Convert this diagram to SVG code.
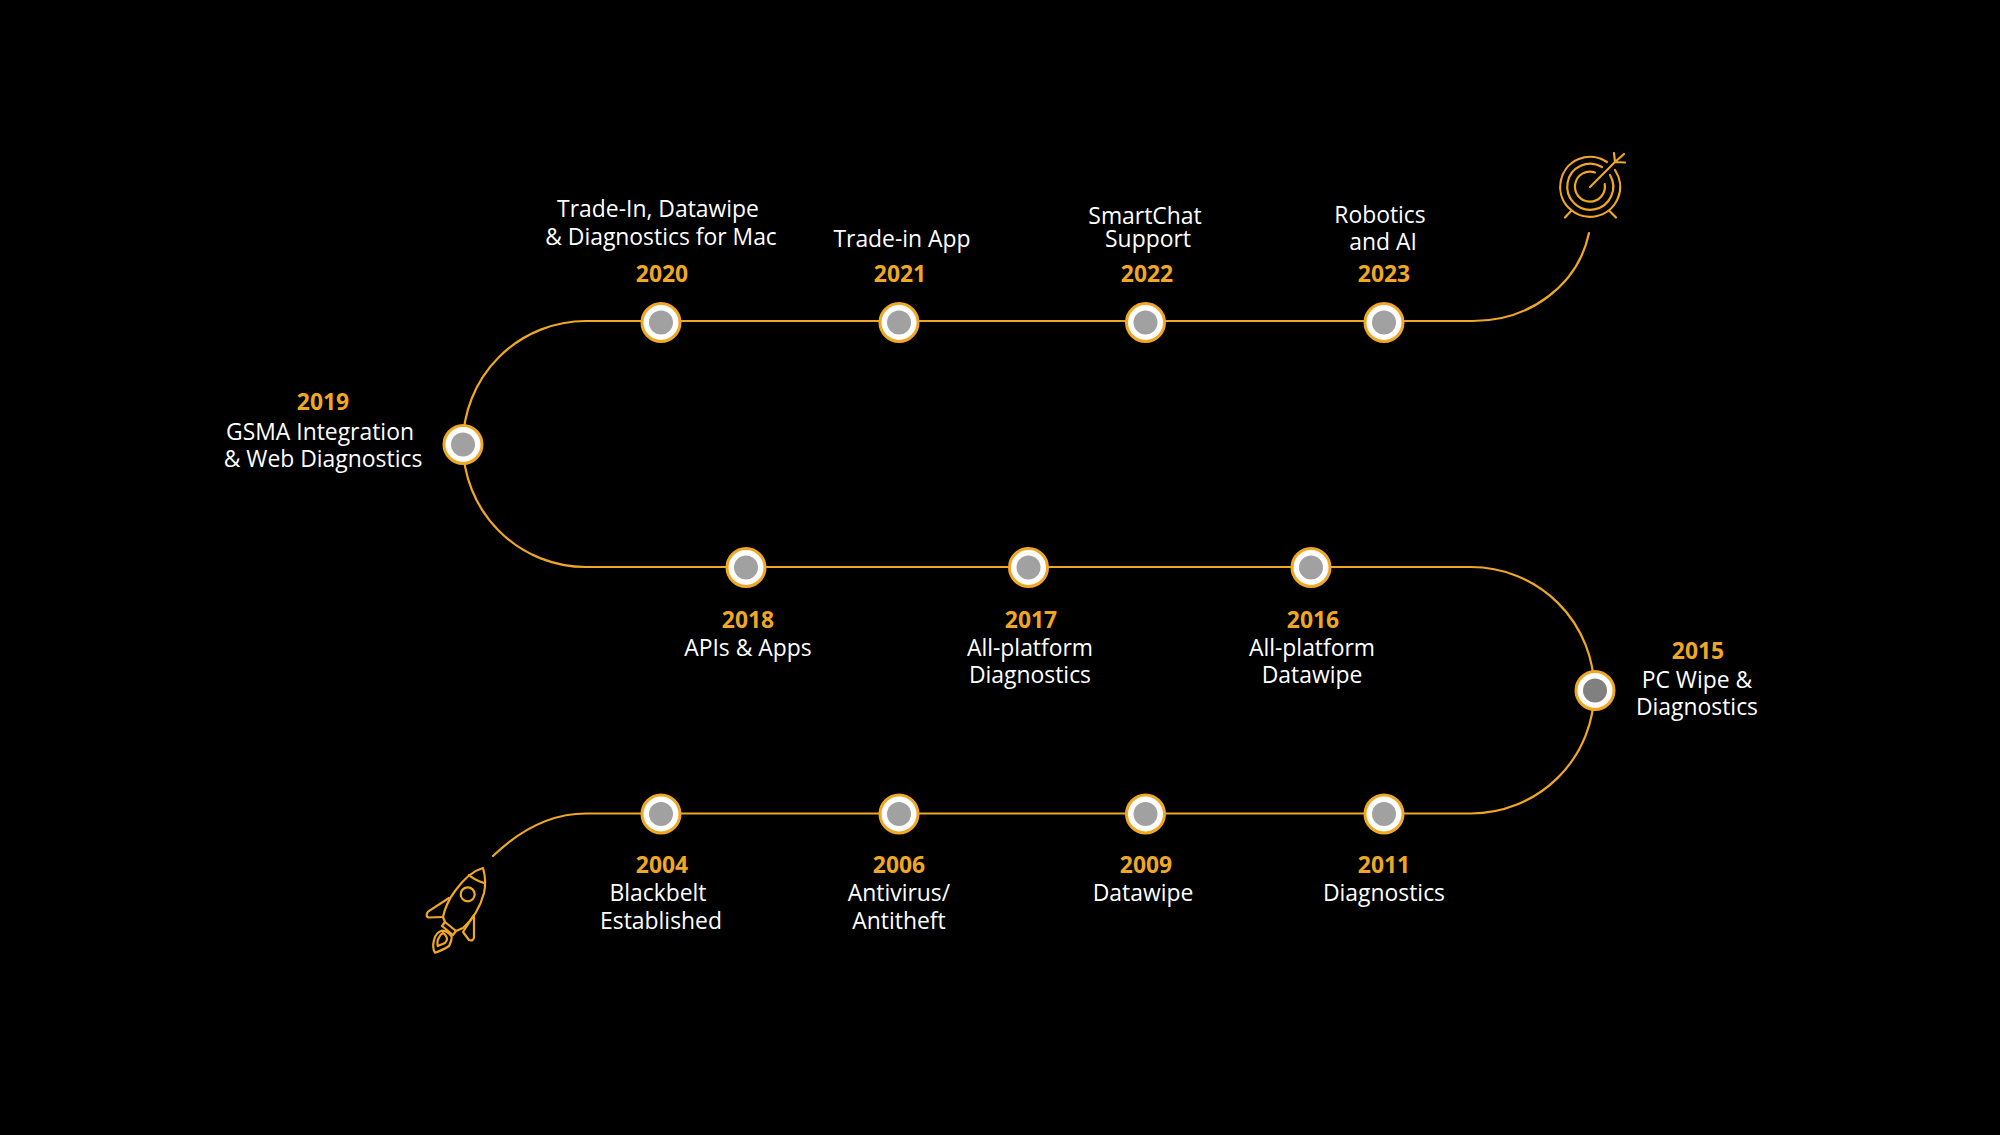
<svg xmlns="http://www.w3.org/2000/svg" width="2000" height="1135" viewBox="0 0 2000 1135">
<defs>
<style>
text{font-family:"Open Sans","Noto Sans",sans-serif;font-size:22.9px;fill:#fff;text-anchor:middle}
.y{font-weight:700;fill:#efa724}
.c{fill:none;stroke:#efa724;stroke-width:2.2;stroke-linecap:round;stroke-linejoin:round}
.r{fill:#fff;stroke:#efa724;stroke-width:3}
.d{fill:#a1a1a1}
</style>
<g id="dot"><circle class="r" r="19"/><circle class="d" r="12"/></g>
</defs>
<rect width="2000" height="1135" fill="#000"/>
<g id="connectors">
<path class="c" d="M493 856C520 830 550 813.500 586 813.500H1471A123 123 0 0 0 1471 567H586A123 123 0 0 1 586 321H1473C1530 321 1578 285 1589 233"/>
</g>
<g id="n2019"><use href="#dot" x="463" y="444.500"/><text class="y" x="323" y="410">2019</text><text x="320" y="440">GSMA Integration</text><text x="323" y="467">&amp; Web Diagnostics</text></g>
<g id="n2020"><use href="#dot" x="661" y="322.500"/><text x="658" y="217">Trade-In, Datawipe</text><text x="661" y="245">&amp; Diagnostics for Mac</text><text class="y" x="662" y="282">2020</text></g>
<g id="n2021"><use href="#dot" x="899" y="322.500"/><text x="902" y="247">Trade-in App</text><text class="y" x="900" y="282">2021</text></g>
<g id="n2022"><use href="#dot" x="1145.500" y="322.500"/><text x="1145" y="224">SmartChat</text><text x="1148" y="247">Support</text><text class="y" x="1147" y="282">2022</text></g>
<g id="n2023"><use href="#dot" x="1384" y="322.500"/><text x="1380" y="223">Robotics</text><text x="1383" y="250">and AI</text><text class="y" x="1384" y="282">2023</text></g>
<g id="n2018"><use href="#dot" x="746" y="567.500"/><text class="y" x="748" y="628">2018</text><text x="748" y="656">APIs &amp; Apps</text></g>
<g id="n2017"><use href="#dot" x="1028.500" y="567.500"/><text class="y" x="1031" y="628">2017</text><text x="1030" y="656">All-platform</text><text x="1030" y="683">Diagnostics</text></g>
<g id="n2016"><use href="#dot" x="1311" y="567.500"/><text class="y" x="1313" y="628">2016</text><text x="1312" y="656">All-platform</text><text x="1312" y="683">Datawipe</text></g>
<g id="n2015"><circle class="r" cx="1595" cy="690.500" r="19"/><circle cx="1595" cy="690.500" r="12" fill="#808080"/><text class="y" x="1698" y="659">2015</text><text x="1697" y="688">PC Wipe &amp;</text><text x="1697" y="715">Diagnostics</text></g>
<g id="n2011"><use href="#dot" x="1384" y="814"/><text class="y" x="1384" y="873">2011</text><text x="1384" y="901">Diagnostics</text></g>
<g id="n2009"><use href="#dot" x="1145.500" y="814"/><text class="y" x="1146" y="873">2009</text><text x="1143" y="901">Datawipe</text></g>
<g id="n2006"><use href="#dot" x="899" y="814"/><text class="y" x="899" y="873">2006</text><text x="899" y="901">Antivirus/</text><text x="899" y="928.500">Antitheft</text></g>
<g id="n2004"><use href="#dot" x="661" y="814"/><text class="y" x="662" y="873">2004</text><text x="658" y="901">Blackbelt</text><text x="661" y="928.500">Established</text></g>
<g id="target" class="c">
<path d="M1607 162A30 30 0 1 0 1615 170"/>
<path d="M1602 167A23 23 0 1 0 1610 175"/>
<path d="M1595 172.500A15 15 0 1 0 1604.700 184"/>
<path d="M1590 187L1615 162M1615 162L1614 153M1615 162L1625 162.500M1615 162L1624 154"/>
<path d="M1571 211L1565 217.500M1610 211.500L1616 217.500"/>
</g>
<g id="rocket" class="c">
<path d="M483 868C472 871 463 880 455 891C449 899 445 908 443 917L445 922L456 931L463 928C472 920 480 908 484 893C486 884 485 875 483 868Z"/>
<path d="M469 875C473 879 478 881 484 883"/>
<path d="M445 922L442 926L453 935L456 931"/>
<circle cx="467.700" cy="894.300" r="7"/>
<path d="M449 898L428 911.700C426 914 426 917 429 917.500L443 917"/>
<path d="M474 915L463 932L469 940C472 941 474 940 474 937Z"/>
<path d="M435 952.700C432 948 433 944 434 940C435 935 438 932 441.700 930.700C446 931 450 934 451.700 936.700C452 941 450 944 449 946C445 949 440 951 435 952.700Z"/>
<path d="M437.700 946C437 942 438 939 439 937.700C440 935 441 934 443 933C445 934 447 937 447 939C447 941 446 942 445 943C443 944 440 945 437.700 946Z"/>
</g>
</svg>
